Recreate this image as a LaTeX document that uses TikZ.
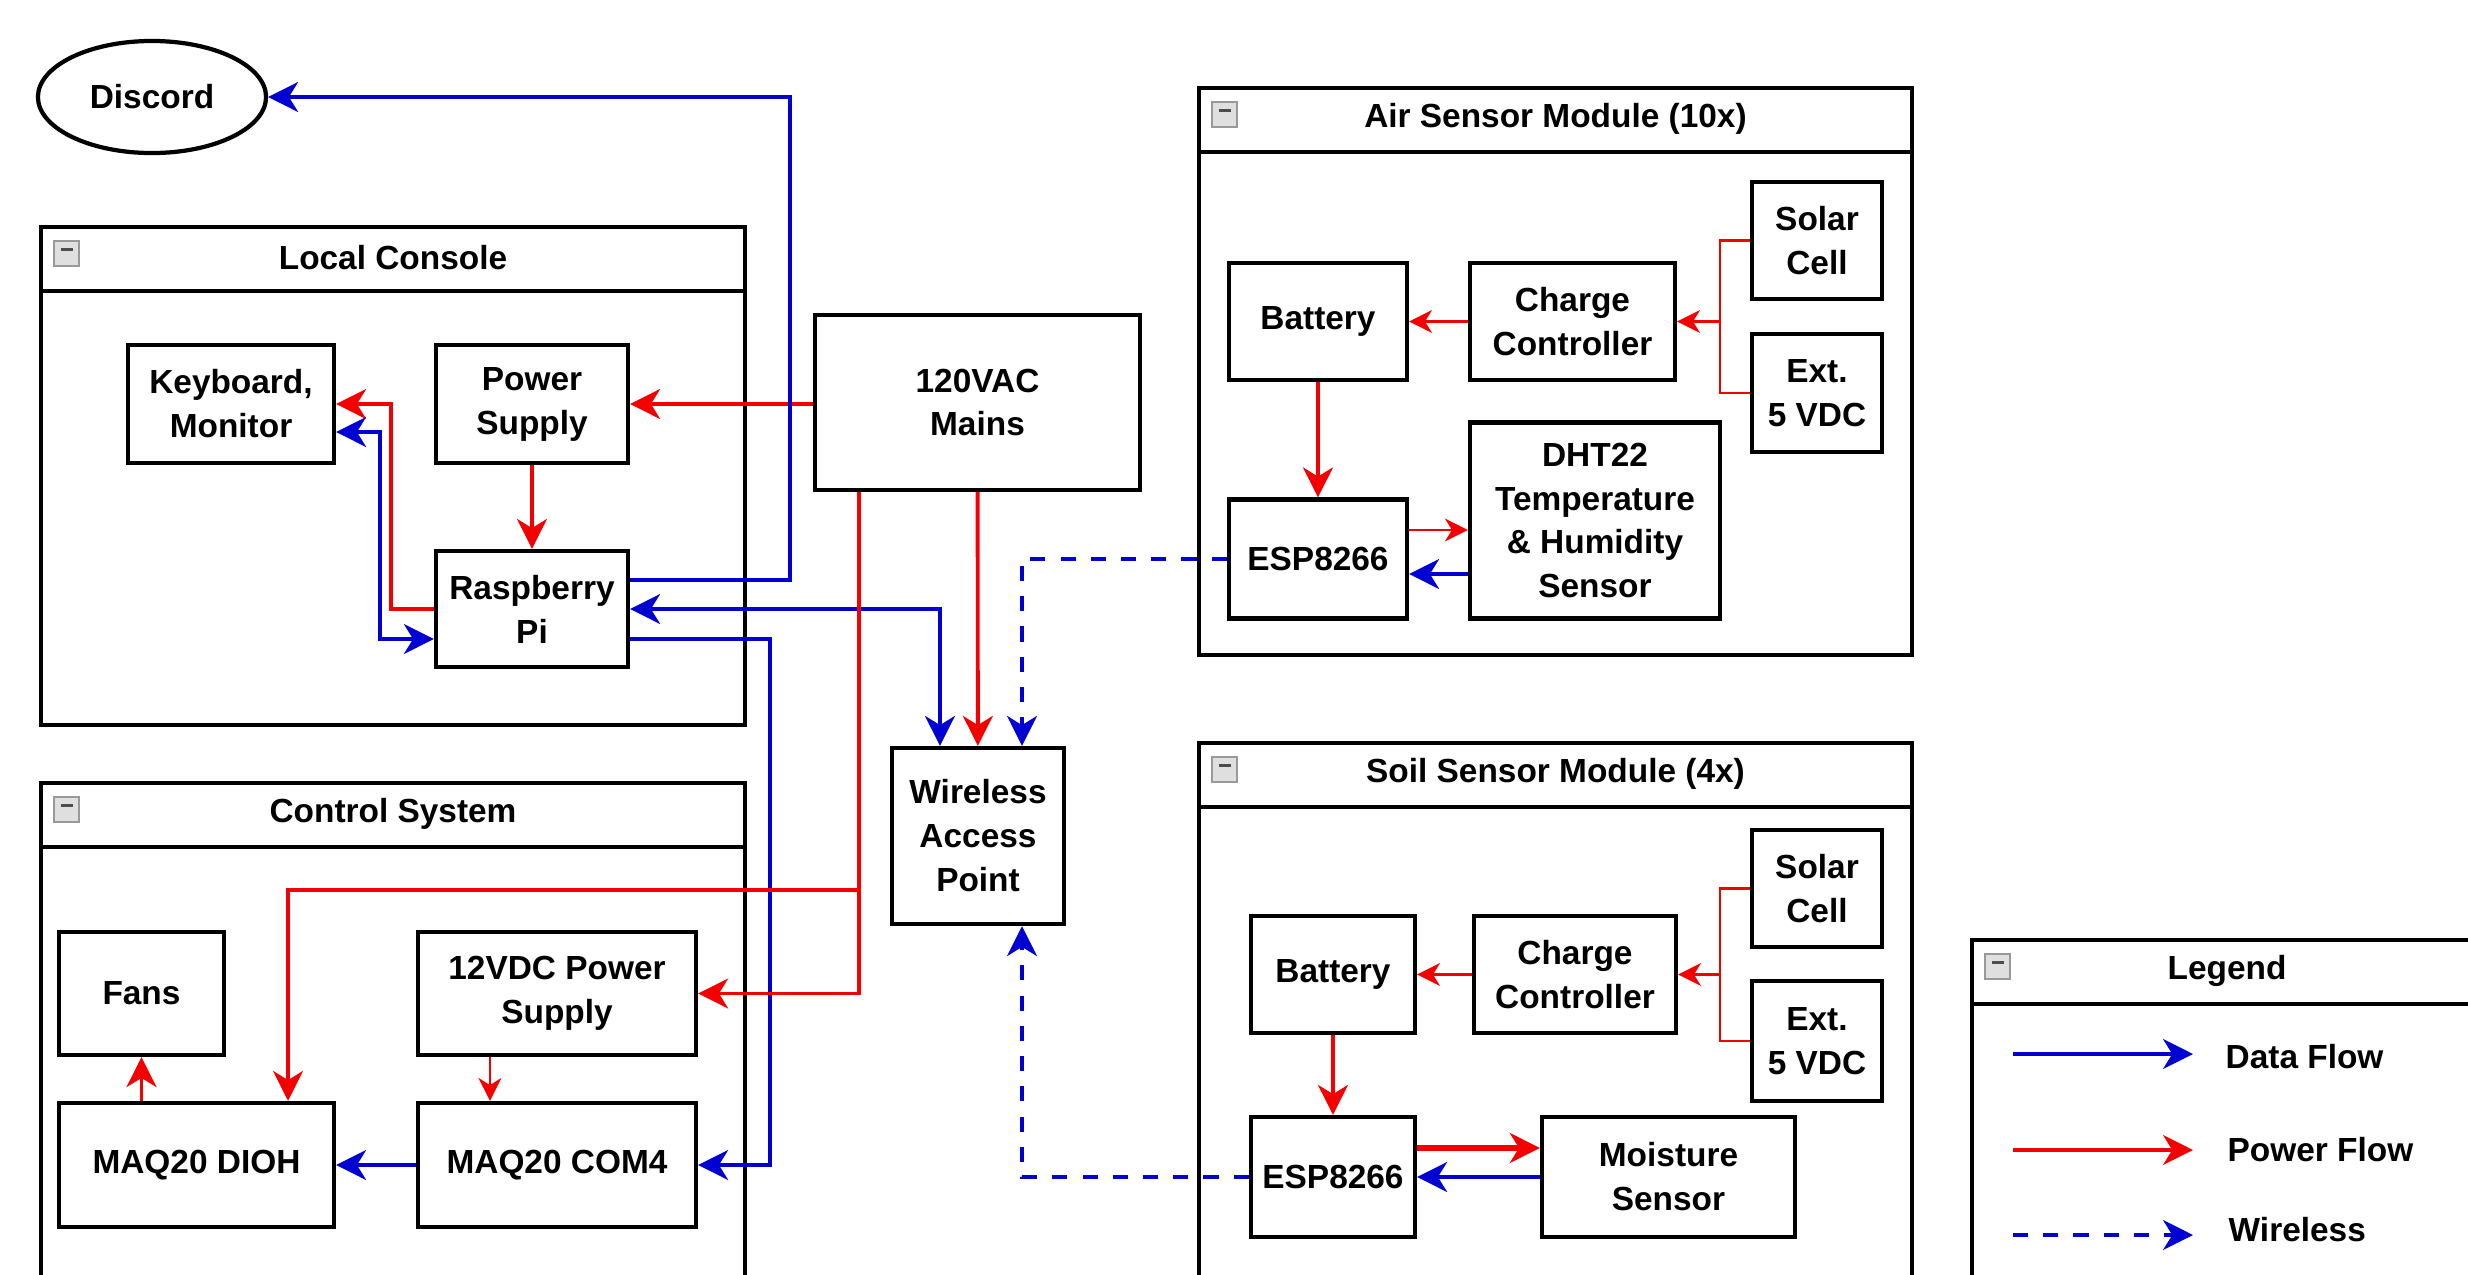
\documentclass[tikz,border=0pt]{standalone}
\usepackage{fontspec}
\setmainfont{Liberation Sans}
\usetikzlibrary{arrows.meta,shapes.geometric}

\definecolor{dataclr}{RGB}{0,0,210}
\definecolor{pwrclr}{RGB}{245,0,0}
\newcommand{\boxfont}{\bfseries\fontsize{9.5}{12.5}\selectfont}

\tikzset{
  flowtip/.tip={Stealth[length=8.5pt,width=8.5pt,inset=2.6pt]},
  smalltip/.tip={Stealth[length=6.5pt,width=6.5pt,inset=2pt]},
  blk/.style={draw, line width=1.2pt, fill=white, align=center, inner sep=1pt, font=\boxfont},
  grp/.style={draw, line width=1.2pt, inner sep=0pt},
  ttl/.style={font=\boxfont, inner sep=0pt},
  minus/.style={draw=gray!80, fill=gray!25, line width=0.6pt, inner sep=0pt,
    minimum width=0.25cm, minimum height=0.25cm,
    path picture={\draw[line width=0.9pt, black!70]
      ([xshift=-0.06cm,yshift=0.04cm]path picture bounding box.center) --
      ([xshift=0.06cm,yshift=0.04cm]path picture bounding box.center);}},
  data/.style={dataclr, line width=1.1pt, -flowtip},
  data2/.style={dataclr, line width=1.1pt, flowtip-flowtip},
  wifi/.style={data, dash pattern=on 4.3pt off 4.3pt},
  pwr/.style={pwrclr, line width=1.1pt, -flowtip},
  pwrthin/.style={pwrclr, line width=0.6pt, -smalltip},
}

\begin{document}
\begin{tikzpicture}[x=0.01cm, y=-0.01cm]
  \clip (0,0) rectangle (2468,1275);
  \useasboundingbox (0,0) rectangle (2468,1275);

  % groups
  \node[grp, minimum width=7.04cm, minimum height=4.98cm] (console) at (393,476) {};
  \node[grp, minimum width=7.04cm, minimum height=5.20cm] (ctrl) at (393,1043) {};
  \node[grp, minimum width=7.13cm, minimum height=5.67cm] (air) at (1555.5,371.5) {};
  \node[grp, minimum width=7.13cm, minimum height=5.60cm] (soil) at (1555.5,1023) {};
  \node[grp, minimum width=5.10cm, minimum height=3.60cm] (legend) at (2227,1120) {};
  \foreach \grp/\ttl in {console/Local Console, ctrl/Control System,
      air/Air Sensor Module (10x), soil/Soil Sensor Module (4x), legend/Legend} {
    \draw[line width=1.2pt] ([yshift=-0.66cm]\grp.north west) -- ([yshift=-0.66cm]\grp.north east);
    \node[ttl] (\grp-ttl) at ([yshift=-0.33cm]\grp.north) {\ttl};
    \node[minus] (\grp-min) at ([xshift=0.28cm,yshift=-0.29cm]\grp.north west) {};
  }

  % blocks
  \node[blk, ellipse, minimum width=2.28cm, minimum height=1.12cm] (discord) at (152,97) {Discord};
  \node[blk, minimum width=2.06cm, minimum height=1.18cm] (kbd) at (231,404) {Keyboard,\\Monitor};
  \node[blk, minimum width=1.92cm, minimum height=1.18cm] (psu) at (532,404) {Power\\Supply};
  \node[blk, minimum width=1.92cm, minimum height=1.16cm] (rpi) at (532,609) {Raspberry\\Pi};
  \node[blk, minimum width=3.25cm, minimum height=1.75cm] (mains) at (977.5,402.5) {120VAC\\Mains};
  \node[blk, minimum width=1.72cm, minimum height=1.76cm] (wap) at (978,836) {Wireless\\Access\\Point};
  \node[blk, minimum width=1.65cm, minimum height=1.23cm] (fans) at (141.5,993.5) {Fans};
  \node[blk, minimum width=2.78cm, minimum height=1.23cm] (psu12) at (557,993.5) {12VDC Power\\Supply};
  \node[blk, minimum width=2.75cm, minimum height=1.24cm] (dioh) at (196.5,1165) {MAQ20 DIOH};
  \node[blk, minimum width=2.78cm, minimum height=1.24cm] (com4) at (557,1165) {MAQ20 COM4};

  % air sensor module
  \node[blk, minimum width=1.78cm, minimum height=1.17cm] (abat) at (1318,321.5) {Battery};
  \node[blk, minimum width=2.05cm, minimum height=1.17cm] (achg) at (1572.5,321.5) {Charge\\Controller};
  \node[blk, minimum width=1.30cm, minimum height=1.17cm] (asol) at (1817,240.5) {Solar\\Cell};
  \node[blk, minimum width=1.30cm, minimum height=1.18cm] (aext) at (1817,393) {Ext.\\5 VDC};
  \node[blk, minimum width=1.78cm, minimum height=1.19cm] (aesp) at (1318,559) {ESP8266};
  \node[blk, minimum width=2.50cm, minimum height=1.96cm] (adht) at (1595,520.5) {DHT22\\Temperature\\\& Humidity\\Sensor};

  % soil sensor module
  \node[blk, minimum width=1.64cm, minimum height=1.17cm] (sbat) at (1333,974.5) {Battery};
  \node[blk, minimum width=2.02cm, minimum height=1.17cm] (schg) at (1575,974.5) {Charge\\Controller};
  \node[blk, minimum width=1.30cm, minimum height=1.17cm] (ssol) at (1817,888.5) {Solar\\Cell};
  \node[blk, minimum width=1.30cm, minimum height=1.20cm] (sext) at (1817,1041) {Ext.\\5 VDC};
  \node[blk, minimum width=1.64cm, minimum height=1.20cm] (sesp) at (1333,1177) {ESP8266};
  \node[blk, minimum width=2.53cm, minimum height=1.20cm] (smst) at (1668.5,1177) {Moisture\\Sensor};

  % local console
  \draw[pwr] (mains.west |- psu.east) -- (psu.east);
  \draw[pwr] (psu) -- (rpi);
  \draw[pwr] (rpi.west) -- ++(-43,0) |- (kbd.east);
  \draw[data2] ([yshift=-0.28cm]kbd.east) -- ++(44,0) |- ([yshift=-0.30cm]rpi.west);
  \draw[data] ([yshift=0.29cm]rpi.east) -- ++(160,0) |- (discord.east);
  \draw[data2] (rpi.east) -| ([xshift=-0.38cm]wap.north);
  \draw[data] ([yshift=-0.30cm]rpi.east) -- ++(140,0) |- (com4.east);

  % mains
  \draw[pwr] (mains) -- (wap);
  \draw[pwr] ([xshift=-1.185cm]mains.south) |- (psu12.east);
  \coordinate (split) at (859,890);
  \draw[pwr] (split) -| ([xshift=0.915cm]dioh.north);

  % control system
  \draw[pwrthin] ([xshift=-0.67cm]psu12.south) -- ([xshift=-0.67cm]com4.north);
  \draw[pwr] (dioh.north -| fans.south) -- (fans.south);
  \draw[data] (com4) -- (dioh);

  % wireless
  \draw[wifi] (aesp.west) -| ([xshift=0.44cm]wap.north);
  \draw[wifi] (sesp.west) -| ([xshift=0.44cm]wap.south);

  % air internals
  \coordinate (ajn) at ([xshift=-0.30cm]achg.east -| asol.west);
  \draw[pwrclr, line width=0.6pt] (asol.west) -- ++(-30,0) |- (aext.west);
  \draw[pwrthin] (ajn) -- (achg.east);
  \draw[pwrthin] (achg) -- (abat);
  \draw[pwr] (abat) -- (aesp);
  \draw[pwrthin] ([yshift=0.29cm]aesp.east) -- ([yshift=0.29cm]aesp.east -| adht.west);
  \draw[data] ([yshift=-0.15cm]aesp.east -| adht.west) -- ([yshift=-0.15cm]aesp.east);

  % soil internals
  \coordinate (sjn) at ([xshift=-0.30cm]schg.east -| ssol.west);
  \draw[pwrclr, line width=0.6pt] (ssol.west) -- ++(-30,0) |- (sext.west);
  \draw[pwrthin] (sjn) -- (schg.east);
  \draw[pwrthin] (schg) -- (sbat);
  \draw[pwr] (sbat) -- (sesp);
  \draw[pwr, line width=1.6pt] ([yshift=0.29cm]sesp.east) -- ([yshift=0.29cm]sesp.east -| smst.west);
  \draw[data] (smst.west |- sesp.east) -- (sesp.east);

  % legend
  \coordinate (lgd1) at (2013,1054);
  \coordinate (lgd2) at (2013,1150);
  \coordinate (lgd3) at (2013,1235);
  \draw[data] (lgd1) -- ++(180,0);
  \draw[pwr] (lgd2) -- ++(180,0);
  \draw[wifi] (lgd3) -- ++(180,0);
  \node[ttl, anchor=west] (lgdata) at (2225,1057) {Data Flow};
  \node[ttl, anchor=west] (lgpwr) at (2227,1150) {Power Flow};
  \node[ttl, anchor=west] (lgwifi) at (2228,1230) {Wireless};
\end{tikzpicture}
\end{document}
